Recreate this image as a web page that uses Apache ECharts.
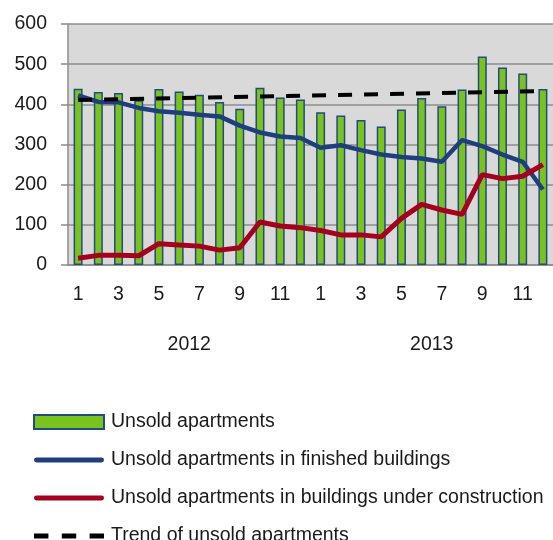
<!DOCTYPE html>
<html>
<head>
<meta charset="utf-8">
<script src="https://cdn.jsdelivr.net/npm/echarts@6/dist/echarts.min.js"></script>
<style>
  html, body { margin: 0; padding: 0; background: #fff; }
  #chart { width: 553px; height: 540px; }
</style>
</head>
<body>
<div id="chart"></div>
<script>
// months of 2012 and 2013
const months = ["1","2","3","4","5","6","7","8","9","10","11","12",
                "1","2","3","4","5","6","7","8","9","10","11","12"];
const years = ["2012", "2013"];

const unsold = [439, 431, 428, 410, 438, 432, 424, 406, 389, 441, 417, 412,
                380, 372, 361, 345, 387, 416, 395, 437, 519, 492, 477, 438];
const finished = [422, 406, 405, 391, 383, 379, 374, 370, 347, 330, 320, 316,
                  292, 298, 286, 275, 269, 265, 257, 311, 296, 275, 257, 188];
const underConstruction = [17, 24, 24, 23, 53, 50, 47, 37, 43, 107, 97, 93,
                           86, 75, 75, 70, 116, 151, 137, 126, 225, 215, 221, 250];
// trend line: only the two ends are read, the line joins them
const trend = [411, null, null, null, null, null, null, null, null, null, null, null,
               null, null, null, null, null, null, null, null, null, null, null, 433];

const yTicks = { min: 0, max: 600, interval: 100 };

const font = "Liberation Sans";
const axisGrey = "#8c8c8c";
const textColor = "#1a1a1a";

// legend icons for the lines (thick stroke, dashed for the trend)
const solidIcon = "path://M2,0 H68 A2.5,2.5 0 0 1 68,5 H2 A2.5,2.5 0 0 1 2,0 Z";
const dashIcon = "path://M0,0 H14 V5 H0 Z M27,0 H41 V5 H27 Z M54,0 H68 V5 H54 Z";

let chart = echarts.init(document.getElementById("chart"));
chart.setOption({
  animation: false,
  textStyle: { fontFamily: font },
  grid: {
    left: 68, top: 24, right: -5, bottom: 275,
    show: true, backgroundColor: "#d9d9d9", borderWidth: 0
  },
  legend: {
    orient: "vertical",
    left: 28,
    top: 407,
    height: 200,
    itemWidth: 70,
    itemHeight: 14,
    itemGap: 18,
    textStyle: { fontFamily: font, fontSize: 19.5, lineHeight: 16, color: textColor, padding: [0, 0, 0, 2] },
    data: [
      { name: "Unsold apartments", icon: "rect" },
      { name: "Unsold apartments in finished buildings", icon: solidIcon },
      { name: "Unsold apartments in buildings under construction", icon: solidIcon },
      { name: "Trend of unsold apartments", icon: dashIcon }
    ]
  },
  xAxis: [
    {
      type: "category",
      data: months,
      position: "bottom",
      axisLine: { lineStyle: { color: axisGrey, width: 1.5 } },
      axisTick: { interval: 0, length: 44, lineStyle: { color: axisGrey, width: 1.5 } },
      axisLabel: { interval: 1, margin: 20, fontSize: 19.5, color: textColor, fontFamily: font }
    },
    {
      type: "category",
      data: years,
      position: "bottom",
      axisLine: { show: false },
      axisTick: { interval: 0, length: 88, lineStyle: { color: axisGrey, width: 1.5 } },
      axisLabel: { margin: 70, fontSize: 19.5, color: textColor, fontFamily: font }
    }
  ],
  yAxis: {
    type: "value",
    min: yTicks.min,
    max: yTicks.max,
    interval: yTicks.interval,
    axisLine: { show: true, lineStyle: { color: axisGrey, width: 1.5 } },
    axisTick: { show: true, length: 7, lineStyle: { color: axisGrey, width: 1.5 } },
    axisLabel: { margin: 21, fontSize: 19.5, color: textColor, fontFamily: font },
    splitLine: { lineStyle: { color: axisGrey, width: 1.5 } }
  },
  series: [
    {
      name: "Unsold apartments",
      type: "bar",
      data: unsold,
      barWidth: 9,
      itemStyle: { color: "#78c31e", borderColor: "#234a82", borderWidth: 1.5 }
    },
    {
      name: "Unsold apartments in finished buildings",
      type: "line",
      data: finished,
      symbol: "none",
      lineStyle: { color: "#1f3f7c", width: 4.5 },
      itemStyle: { color: "#1f3f7c" }
    },
    {
      name: "Unsold apartments in buildings under construction",
      type: "line",
      data: underConstruction,
      symbol: "none",
      lineStyle: { color: "#a5001e", width: 5 },
      itemStyle: { color: "#a5001e" }
    },
    {
      name: "Trend of unsold apartments",
      type: "line",
      data: trend,
      connectNulls: true,
      symbol: "none",
      lineStyle: { color: "#000", width: 4, type: [14, 12] },
      itemStyle: { color: "#000" }
    }
  ]
});
window.onresize = chart.resize;
</script>
</body>
</html>
